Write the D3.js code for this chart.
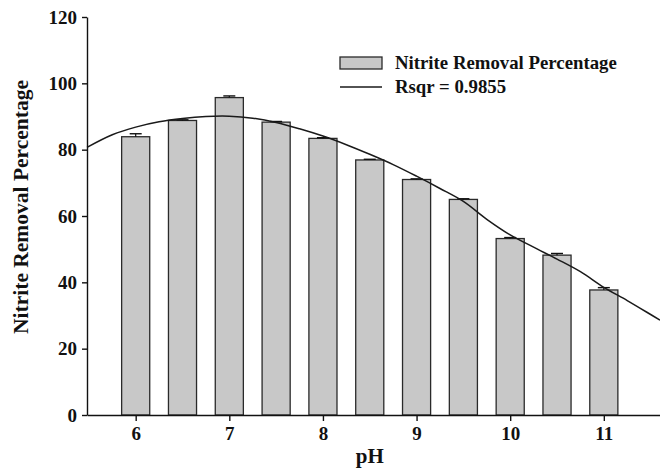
<!DOCTYPE html>
<html>
<head>
<meta charset="utf-8">
<script src="https://cdn.jsdelivr.net/npm/d3@7"></script>
<style>
  body { margin: 0; background: #fff; }
  text { font-family: "Liberation Serif", "Times New Roman", serif; font-weight: bold; fill: #111; }
  .axis path, .axis line { stroke: #111; stroke-width: 1.4px; }
</style>
</head>
<body>
<div class="chart"></div>
<script>
// DATA ------------------------------------
const phLevels   = [6, 6.5, 7, 7.5, 8, 8.5, 9, 9.5, 10, 10.5, 11];
const removalPct = [83.9, 88.8, 95.7, 88.3, 83.4, 76.9, 71.0, 65.0, 53.2, 48.2, 37.7];
const removalErr = [0.9, 0.2, 0.5, 0.2, 0.2, 0.2, 0.2, 0.2, 0.3, 0.5, 0.7];
// fitted curve
const fitPH  = [5.48, 5.75, 6, 6.25, 6.5, 6.75, 7, 7.25, 7.5, 7.75, 8, 8.25, 8.5, 8.75, 9, 9.25, 9.5, 9.75, 10, 10.25, 10.5, 10.75, 11, 11.25, 11.5, 11.6];
const fitPct = [80.7, 84.5, 86.8, 88.4, 89.4, 90.0, 90.1, 89.5, 88.2, 86.3, 84.1, 81.5, 78.6, 75.5, 72.0, 68.3, 64.4, 59.0, 54.3, 50.6, 47.0, 43.2, 38.5, 34.5, 30.3, 28.6];
const xTicks = [6, 7, 8, 9, 10, 11];
const yTicks = [0, 20, 40, 60, 80, 100, 120];

// CHART INIT ------------------------------
const margin = ({top: 17, right: 0, bottom: 55, left: 87});
const width = 660 - margin.left - margin.right;
const height = 470 - margin.top - margin.bottom;
const svg = d3.select(".chart")
    .append("svg")
    .attr("width", width + margin.left + margin.right)
    .attr("height", height + margin.top + margin.bottom)
    .append("g")
    .attr("transform", "translate(" + margin.left + "," + margin.top + ")");

let xScale = d3.scaleLinear()
    .domain([5.48, 11.6])
    .range([0, width]);
let yScale = d3.scaleLinear()
    .domain([0, 120])
    .range([height, 0]);

const barW = xScale(6.3) - xScale(6);

// bars
svg.selectAll("rect.bar")
    .data(phLevels)
    .enter()
    .append("rect")
    .attr("class", "bar")
    .attr("x", d => xScale(d) - barW / 2)
    .attr("y", (d, i) => yScale(removalPct[i]))
    .attr("width", barW)
    .attr("height", (d, i) => height - yScale(removalPct[i]))
    .attr("fill", "#c8c8c8")
    .attr("stroke", "#2a2a2a")
    .attr("stroke-width", 1.3);

// error bars (upper only)
const err = svg.append("g").attr("class", "errors");
phLevels.forEach((d, i) => {
  const top = yScale(removalPct[i] + removalErr[i]);
  err.append("line")
     .attr("x1", xScale(d)).attr("x2", xScale(d))
     .attr("y1", yScale(removalPct[i])).attr("y2", top)
     .attr("stroke", "#111").attr("stroke-width", 1.2);
  err.append("line")
     .attr("x1", xScale(d) - 6).attr("x2", xScale(d) + 6)
     .attr("y1", top).attr("y2", top)
     .attr("stroke", "#111").attr("stroke-width", 1.4);
});

// fitted curve
const line = d3.line()
    .x((d, i) => xScale(d))
    .y((d, i) => yScale(fitPct[i]))
    .curve(d3.curveCatmullRom);
svg.append("path")
    .datum(fitPH)
    .attr("d", line)
    .attr("fill", "none")
    .attr("stroke", "#1a1a1a")
    .attr("stroke-width", 1.5);

// axes
let xAxis = d3.axisBottom(xScale)
    .tickValues(xTicks)
    .tickFormat(d3.format("d"))
    .tickSize(6)
    .tickSizeOuter(0)
    .tickPadding(6);
let yAxis = d3.axisLeft(yScale)
    .tickValues(yTicks)
    .tickSize(5)
    .tickSizeOuter(0)
    .tickPadding(5);

svg.append('g')
    .attr('class', 'axis x-axis')
    .attr("transform", `translate(0, ${height})`)
    .call(xAxis)
    .selectAll("text")
    .attr("font-size", "19px");
svg.append('g')
    .attr('class', 'axis y-axis')
    .call(yAxis)
    .selectAll("text")
    .attr("font-size", "19px");
svg.selectAll(".axis text").style("font-family", "'Liberation Serif', serif").style("font-weight", "bold");

// axis titles
svg.append("text")
  .attr("x", xScale(8.5))
  .attr("y", height + 48)
  .attr("font-size", "21px")
  .style("text-anchor", "middle")
  .text("pH");
svg.append("text")
  .attr("transform", `translate(${-59}, ${207 - margin.top}) rotate(-90)`)
  .attr("font-size", "21.5px")
  .style("text-anchor", "middle")
  .text("Nitrite Removal Percentage");

// legend
const legend = svg.append("g")
  .attr("transform", `translate(${340 - margin.left}, ${57 - margin.top})`);
legend.append("rect")
  .attr("x", 0).attr("y", 0)
  .attr("width", 42).attr("height", 12)
  .attr("fill", "#c8c8c8")
  .attr("stroke", "#2a2a2a")
  .attr("stroke-width", 1.3);
legend.append("text")
  .attr("x", 55).attr("y", 12)
  .attr("font-size", "18.8px")
  .text("Nitrite Removal Percentage");
legend.append("line")
  .attr("x1", 0).attr("x2", 42)
  .attr("y1", 30).attr("y2", 30)
  .attr("stroke", "#1a1a1a")
  .attr("stroke-width", 1.5);
legend.append("text")
  .attr("x", 55).attr("y", 36)
  .attr("font-size", "18.8px")
  .text("Rsqr = 0.9855");
</script>
</body>
</html>
